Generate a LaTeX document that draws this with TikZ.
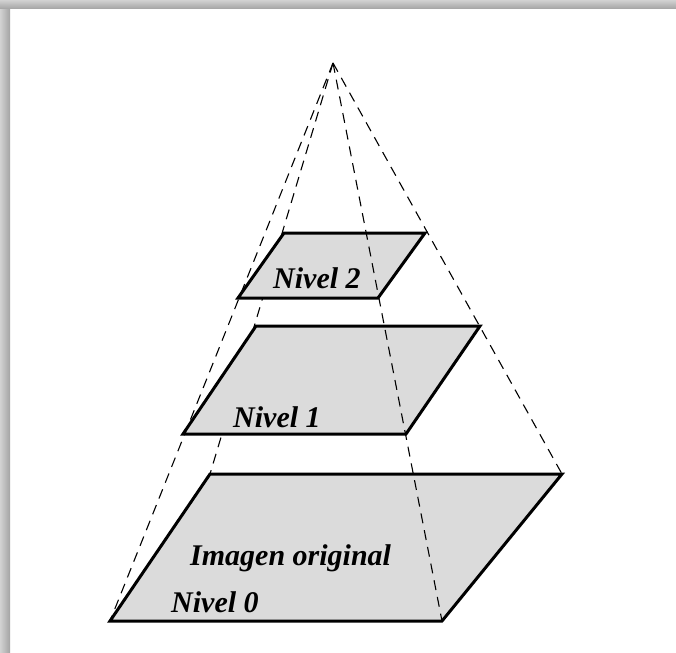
\documentclass[tikz,border=0pt]{standalone}
\usepackage{fontspec}
\setmainfont{Liberation Serif}
\tikzset{
  nivel/.style={draw=black, line width=3pt, line join=miter, fill=gray!28},
  arista/.style={draw=black, line width=1.1pt, dash pattern=on 10pt off 7pt},
  rotulo/.style={anchor=base west, inner sep=0pt, font=\fontsize{30}{34}\selectfont\bfseries\itshape}
}
\begin{document}
\begin{tikzpicture}[x=1pt, y=-1pt]
        \useasboundingbox (0,0) rectangle (676,652);
        \fill[white] (0,0) rectangle (676,652);

        % sombra del marco
        \shade[left color=gray!35, right color=gray!72] (0,0) rectangle (10,652);
        \shade[top color=gray!35, bottom color=gray!72] (0,0) rectangle (676,9);

        \coordinate (apice) at (333,63);

        % arista de atras
        \draw[arista] (apice) -- (210,474);

        % Nivel 0
        \draw[nivel] (110,621) -- (210,474) -- (562,474) -- (442,621) -- cycle;
        % Nivel 1
        \draw[nivel] (183,434) -- (256,326) -- (480,326) -- (406,434) -- cycle;
        % Nivel 2
        \draw[nivel] (238,298) -- (284,233) -- (425,233) -- (378,298) -- cycle;

        % aristas de delante
        \draw[arista] (apice) -- (110,621);
        \draw[arista] (apice) -- (562,474);
        \draw[arista] (apice) -- (442,621);

        \node[rotulo] (n2) at (273,288) {Nivel 2};
        \node[rotulo] (n1) at (233,427) {Nivel 1};
        \node[rotulo] (orig) at (190,565) {Imagen original};
        \node[rotulo] (n0) at (171,612) {Nivel 0};

\end{tikzpicture}
\end{document}
